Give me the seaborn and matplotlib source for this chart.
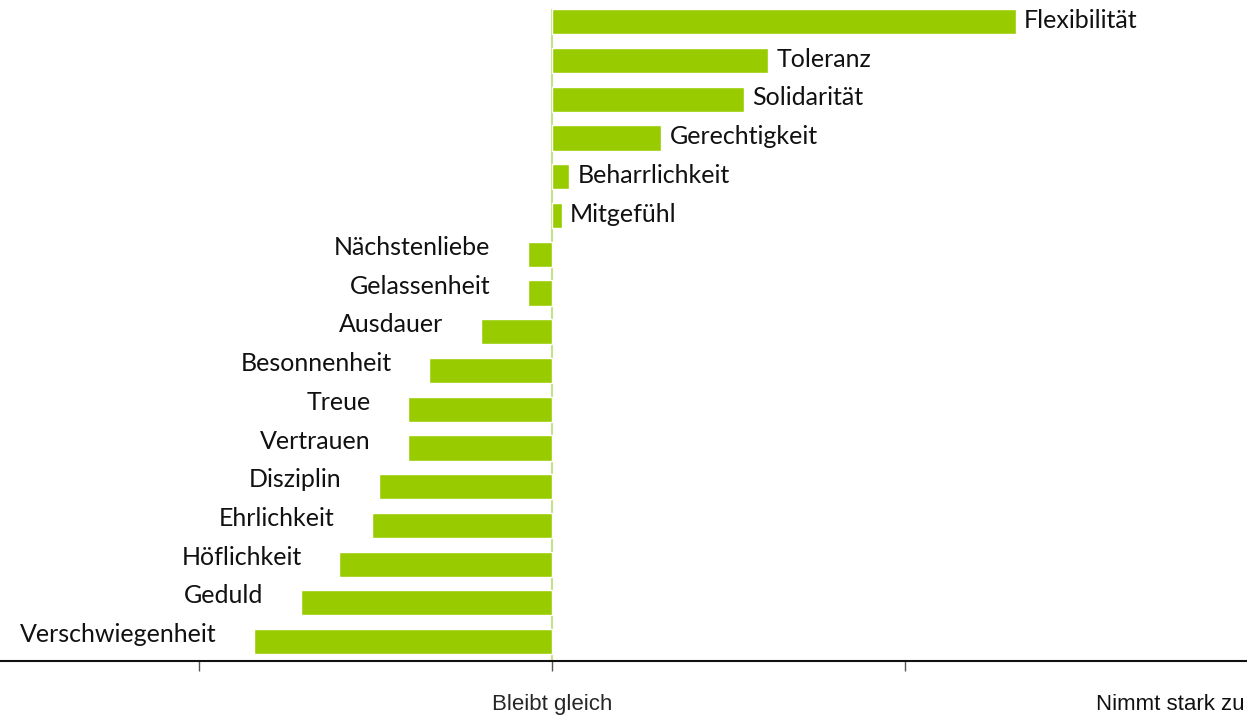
import numpy as np
import pandas as pd
import matplotlib
matplotlib.use('Agg')
import matplotlib.pyplot as plt
import seaborn as sns

# Werte (geschätzt aus der Vorlage), oben nach unten
tugenden = ['Flexibilität', 'Toleranz', 'Solidarität', 'Gerechtigkeit', 'Beharrlichkeit',
            'Mitgefühl', 'Nächstenliebe', 'Gelassenheit', 'Ausdauer', 'Besonnenheit',
            'Treue', 'Vertrauen', 'Disziplin', 'Ehrlichkeit', 'Höflichkeit', 'Geduld',
            'Verschwiegenheit']
werte = [1.314, 0.612, 0.544, 0.309, 0.048, 0.028, -0.068, -0.068, -0.201, -0.348,
         -0.408, -0.408, -0.490, -0.510, -0.603, -0.711, -0.844]
tick_pos = [-1, 0, 1]
tick_text = ['', 'Bleibt gleich', '']
rechts_text = 'Nimmt stark zu'

df = pd.DataFrame({'tugend': tugenden, 'wert': werte})

sns.set_style('white')
plt.rcParams['font.family'] = ['Lato', 'DejaVu Sans']

fig = plt.figure(figsize=(12.47, 7.18), dpi=100)
ax = fig.add_axes([0, 0.0794, 1, 0.9171])

sns.barplot(data=df, y='tugend', x='wert', orient='h', color='#99CC00',
            saturation=1, width=0.65, ax=ax)

ax.set_xlim(-1.5637, 1.9688)
ax.set_ylim(len(tugenden) - 0.5, -0.5)

# Null-Linie
ax.vlines(0, -0.325, len(tugenden) - 0.5, color='#c5e08a', lw=1.5, zorder=0)

# Beschriftungen an den Balken
for i, (name, w) in enumerate(zip(tugenden, werte)):
    if w >= 0:
        ax.annotate(name, (w, i), xytext=(6, 1), textcoords='offset points',
                    ha='left', va='center', fontsize=18, color='#111111')
    else:
        ax.annotate(name, (w, i), xytext=(-27, 5), textcoords='offset points',
                    ha='right', va='center', fontsize=18, color='#111111')

for s in ['top', 'right', 'left']:
    ax.spines[s].set_visible(False)
ax.spines['bottom'].set_color('#111111')
ax.spines['bottom'].set_linewidth(1.5)

ax.set_yticks([])
ax.set_xticks(tick_pos)
ax.set_xticklabels(tick_text, fontfamily='Liberation Sans', fontsize=16)
ax.tick_params(axis='x', bottom=True, direction='out', length=7, width=1,
               color='#555555', pad=17)
ax.set_xlabel('')
ax.set_ylabel('')

ax.text(0.998, -0.066, rechts_text, transform=ax.transAxes, ha='right', va='center',
        fontfamily='Liberation Sans', fontsize=16, color='#111111')

fig.savefig('out.png', dpi=100)
